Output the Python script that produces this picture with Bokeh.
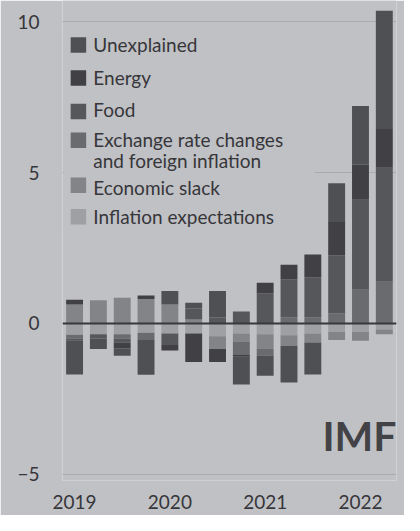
from bokeh.plotting import figure
from bokeh.models import ColumnDataSource, Range1d, FixedTicker, Span
from bokeh.core.properties import value
from bokeh.embed import file_html
from bokeh.resources import INLINE

# ---------------- data ----------------
quarters = ["2019Q1", "2019Q2", "2019Q3", "2019Q4",
            "2020Q1", "2020Q2", "2020Q3", "2020Q4",
            "2021Q1", "2021Q2", "2021Q3", "2021Q4",
            "2022Q1", "2022Q2"]

inflation_expectations = [-0.37, -0.36, -0.36, -0.31, -0.33, -0.33, -0.42, -0.33,
                          -0.36, -0.39, -0.33, -0.28, -0.28, -0.20]
economic_slack = [0.63, 0.77, 0.85, 0.81, 0.63, 0.13, -0.43, -0.27,
                  -0.47, -0.35, -0.30, -0.27, -0.29, -0.16]
exchange_rate = [-0.13, 0.0, -0.14, -0.18, 0.0, 0.0, 0.0, -0.43,
                 -0.23, 0.20, 0.20, 0.33, 1.12, 1.38]
food = [-0.06, -0.14, -0.14, -0.05, -0.38, 0.37, 0.20, 0.40,
        0.99, 1.27, 1.32, 1.93, 2.98, 3.78]
energy = [0.16, 0.0, -0.18, 0.12, -0.19, -0.95, -0.43, -0.07,
          0.36, 0.48, 0.77, 1.10, 1.16, 1.29]
unexplained = [-1.13, -0.35, -0.25, -1.16, 0.45, 0.19, 0.88, -0.92,
               -0.67, -1.22, -1.06, 1.29, 1.95, 3.92]

year_ticks = [0, 4, 8, 12]
year_labels = ["2019", "2020", "2021", "2022"]
y_ticks = [-5, 0, 5, 10]

legend_labels = ["Unexplained", "Energy", "Food",
                 "Exchange rate changes\nand foreign inflation",
                 "Economic slack", "Inflation expectations"]

# ---------------- style ----------------
BG = "#c0c1c5"
TXT = "#36363a"
C_UNEXP = "#4f5054"
C_ENERGY = "#404045"
C_FOOD = "#56575b"
C_EXCH = "#6a6b6f"
C_SLACK = "#838488"
C_EXPECT = "#9fa0a4"

# stacking order (from zero outward)
series = [inflation_expectations, economic_slack, exchange_rate, food, energy, unexplained]
colors = [C_EXPECT, C_SLACK, C_EXCH, C_FOOD, C_ENERGY, C_UNEXP]

W, H = 404, 515
SX, SY = W / 420, H / 531
FL, FR, FB = 62, 8, 35          # frame borders (px)
PXU = 24.77 * SX                # px per bar step
PYU = 31.1 * SY                 # px per unit
ZERO = 333 * SY                 # zero line (px from top)
X0 = -(77 * SX - FL) / PXU
X1 = X0 + (W - FL - FR) / PXU
Y1 = ZERO / PYU
Y0 = -((H - FB) - ZERO) / PYU


def RX(rx):
    return X0 + (rx * SX - FL) / PXU


def RY(ry):
    return (ZERO - ry * SY) / PYU


p = figure(width=W, height=H, output_backend="svg", toolbar_location=None,
           x_range=Range1d(X0, X1), y_range=Range1d(Y0, Y1),
           min_border_left=FL, min_border_right=FR, min_border_top=0, min_border_bottom=FB,
           background_fill_color=BG, border_fill_color=BG, outline_line_color=None)

p.xgrid.grid_line_color = None
p.ygrid.grid_line_color = "#aaabaf"
p.ygrid.grid_line_width = 1
p.ygrid.ticker = FixedTicker(ticks=y_ticks)

p.yaxis.ticker = FixedTicker(ticks=y_ticks)
p.yaxis.axis_line_color = None
p.yaxis.major_tick_line_color = None
p.yaxis.minor_tick_line_color = None
p.yaxis.major_label_standoff = 17
p.yaxis.major_label_text_font = "Lato"
p.yaxis.major_label_text_font_size = "19px"
p.yaxis.major_label_text_color = TXT

p.xaxis.ticker = FixedTicker(ticks=year_ticks)
p.xaxis.major_label_overrides = {t: l for t, l in zip(year_ticks, year_labels)}
p.xaxis.axis_line_color = None
p.xaxis.major_tick_line_color = None
p.xaxis.minor_tick_line_color = None
p.xaxis.major_label_standoff = 8
p.xaxis.major_label_text_font = "Lato"
p.xaxis.major_label_text_font_size = "19px"
p.xaxis.major_label_text_color = TXT

# ---------------- stacked bars ----------------
n = len(quarters)
xs = list(range(n))
pos = [0.0] * n
neg = [0.0] * n
for vals, col in zip(series, colors):
    bottoms, tops = [], []
    for i, v in enumerate(vals):
        if v >= 0:
            bottoms.append(pos[i])
            tops.append(pos[i] + v)
            pos[i] += v
        else:
            tops.append(neg[i])
            bottoms.append(neg[i] + v)
            neg[i] += v
    src = ColumnDataSource(dict(x=xs, top=tops, bottom=bottoms, q=quarters))
    p.vbar(x="x", top="top", bottom="bottom", width=0.71, source=src,
           fill_color=col, line_color=None)

p.add_layout(Span(location=0, dimension="width", line_color="#38383c", line_width=2))

# ---------------- legend (manual) ----------------
p.quad(left=[RX(66)], right=[RX(327)], top=[RY(30)], bottom=[RY(240)],
       fill_color=BG, line_color=None)
leg_colors = [C_UNEXP, C_ENERGY, C_FOOD, C_EXCH, C_SLACK, C_EXPECT]
sw_y = [46, 80, 114.5, 144, 190.5, 223]
line_y = [[45], [79], [112], [143, 165], [193], [223]]
p.rect(x=[RX(81)] * 6, y=[RY(v) for v in sw_y], width=15.5, height=15.5,
       width_units="screen", height_units="screen",
       fill_color=leg_colors, line_color=None)
tx, ty, tt = [], [], []
for lab, ys in zip(legend_labels, line_y):
    for part, yy in zip(lab.split("\n"), ys):
        tx.append(RX(96.5))
        ty.append(RY(yy))
        tt.append(part)
p.text(x=tx, y=ty, text=tt,
       text_font=value("Lato"), text_font_size="19px", text_color=TXT,
       text_baseline="middle", text_align="left")

# IMF mark
p.text(x=[X1], y=[RY(448)], text=["IMF"],
       text_font=value("Lato"), text_font_style="bold", text_font_size="41px",
       text_color="#434347", text_baseline="middle", text_align="right")

open("out.html", "w").write(file_html(p, INLINE))
